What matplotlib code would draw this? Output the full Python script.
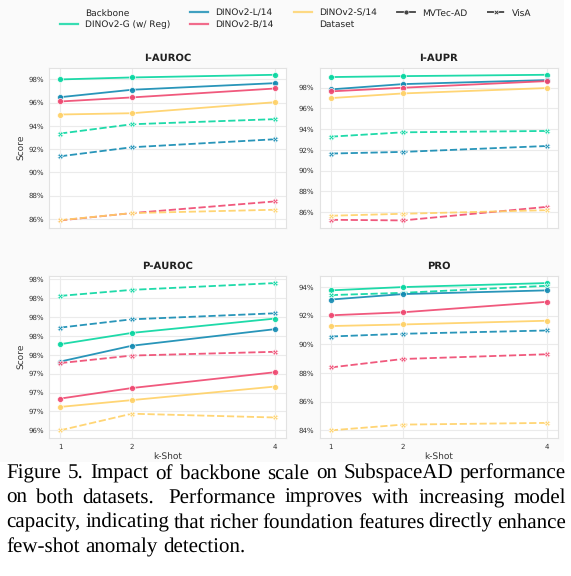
import matplotlib
matplotlib.use("Agg")
import matplotlib.pyplot as plt
from matplotlib.lines import Line2D
from matplotlib.patches import Rectangle
from matplotlib.ticker import MultipleLocator, FuncFormatter

plt.rcParams["text.hinting"] = "no_hinting"
plt.rcParams["text.hinting_factor"] = 1

# ---------------- data ----------------
kshot = [1, 2, 4]
backbones = ["DINOv2-G (w/ Reg)", "DINOv2-L/14", "DINOv2-B/14", "DINOv2-S/14"]
datasets = ["MVTec-AD", "VisA"]
colors = ["#06d6a0", "#118ab2", "#ef476f", "#ffd166"]

i_auroc_mvtec = [[98.00, 98.17, 98.40], [96.47, 97.11, 97.68], [96.10, 96.45, 97.22], [94.98, 95.09, 96.04]]
i_auroc_visa = [[93.34, 94.14, 94.58], [91.38, 92.16, 92.85], [85.86, 86.49, 87.50], [85.88, 86.49, 86.78]]

i_aupr_mvtec = [[99.03, 99.12, 99.25], [97.84, 98.35, 98.74], [97.65, 98.00, 98.64], [97.00, 97.45, 97.97]]
i_aupr_visa = [[93.28, 93.70, 93.83], [91.65, 91.81, 92.38], [85.26, 85.20, 86.51], [85.65, 85.84, 86.19]]

p_auroc_mvtec = [[97.64, 97.79, 97.98], [97.41, 97.62, 97.84], [96.92, 97.06, 97.27], [96.81, 96.90, 97.08]]
p_auroc_visa = [[98.28, 98.36, 98.45], [97.86, 97.97, 98.05], [97.39, 97.49, 97.54], [96.50, 96.72, 96.67]]

pro_mvtec = [[93.77, 94.00, 94.28], [93.13, 93.51, 93.77], [92.03, 92.24, 92.97], [91.28, 91.39, 91.65]]
pro_visa = [[93.44, 93.60, 94.09], [90.55, 90.74, 90.97], [88.39, 88.98, 89.31], [84.00, 84.40, 84.52]]

metrics = ["I-AUROC", "I-AUPR", "P-AUROC", "PRO"]
tick_steps = [2, 2, 0.25, 2]
metric_data = [(i_auroc_mvtec, i_auroc_visa), (i_aupr_mvtec, i_aupr_visa),
               (p_auroc_mvtec, p_auroc_visa), (pro_mvtec, pro_visa)]

caption_lines = [
    "Figure 5. Impact of backbone scale on SubspaceAD performance",
    "on both datasets.  Performance improves with increasing model",
    "capacity, indicating that richer foundation features directly enhance",
    "few-shot anomaly detection.",
]

# ---------------- figure ----------------
W, H = 571, 576
fig = plt.figure(figsize=(W / 100, H / 100), dpi=100)
fig.patch.set_facecolor("white")
fig.patches.append(Rectangle((0, 1 - 462 / H), 564 / W, 462 / H, transform=fig.transFigure,
                             facecolor="#fafafa", edgecolor="none", zorder=-10))

def px_axes(l, t, r, b):
    return [l / W, 1 - b / H, (r - l) / W, (b - t) / H]

boxes = [px_axes(49.3, 67.5, 286, 227.7), px_axes(320, 67.5, 557.7, 227.7),
         px_axes(49.3, 275.7, 286, 437.7), px_axes(320, 275.7, 557.7, 437.7)]

tick_color = "#333333"
for i, (name, box, step, (mv, vi)) in enumerate(zip(metrics, boxes, tick_steps, metric_data)):
    ax = fig.add_axes(box)
    ax.set_facecolor("white")
    for spine in ax.spines.values():
        spine.set_color("#e2e2e2")
        spine.set_linewidth(0.8)
    ax.grid(True, color="#ebebeb", linewidth=0.8)
    ax.set_axisbelow(True)
    for j in range(len(backbones)):
        ax.plot(kshot, mv[j], color=colors[j], lw=1.3, alpha=0.9, marker="o", ms=4.3,
                mec="white", mew=0.5, zorder=3)
        ax.plot(kshot, vi[j], color=colors[j], lw=1.3, alpha=0.9, marker="X", ms=4.3,
                mec="white", mew=0.5, dashes=(4, 1.5), zorder=3)
    ax.margins(x=0.05, y=0.05)
    ax.set_xticks(kshot)
    ax.yaxis.set_major_locator(MultipleLocator(step))
    ax.yaxis.set_major_formatter(FuncFormatter(lambda v, p: f"{v:.0f}%"))
    ax.tick_params(axis="both", length=0, labelsize=5.4, colors=tick_color, pad=4)
    ax.set_title(name, fontsize=7.2, fontweight="bold", color="#222222", pad=5)
    if i % 2 == 0:
        ax.set_ylabel("Score", fontsize=6.3, color=tick_color, labelpad=2)
    if i >= 2:
        ax.set_xlabel("k-Shot", fontsize=6.2, color=tick_color, labelpad=1.5)
    else:
        ax.tick_params(axis="x", labelbottom=False)

# ---------------- legend ----------------
blank = Line2D([], [], color="none")
handles = [blank] + [Line2D([], [], color=c, lw=1.6, alpha=0.8) for c in colors] + [
    blank,
    Line2D([], [], color="#444444", lw=1.3, marker="o", ms=3.5, mec="white", mew=0.4),
    Line2D([], [], color="#444444", lw=1.3, marker="X", ms=3.5, mec="white", mew=0.4, dashes=(4, 1.5)),
]
labels = ["Backbone"] + backbones + ["Dataset"] + datasets
leg = fig.legend(handles, labels, ncol=5, loc="upper left", bbox_to_anchor=(56 / W, 1 - 5 / H),
                 borderaxespad=0, frameon=False, fontsize=6.5, handlelength=2.0,
                 columnspacing=2.2, handletextpad=0.8, labelspacing=0.35)
for t in leg.get_texts():
    t.set_color("#222222")

# ---------------- caption (justified) ----------------
renderer = fig.canvas.get_renderer()
cap_left, cap_right = 6.5, 566
baselines = [478.5, 503, 527.5, 552]
cap_size = 15.3
cap_font = dict(fontsize=cap_size, family="Liberation Serif", color="black", va="baseline")

def text_width(s):
    t = fig.text(0, 0, s, **cap_font)
    w = t.get_window_extent(renderer).width
    t.remove()
    return w

bar_w = text_width("|")
for li, line in enumerate(caption_lines):
    ypos = 1 - baselines[li] / H
    starts, words = [], []
    pos = 0
    for w in line.split(" "):
        if w:
            starts.append(pos)
            words.append(w)
        pos += len(w) + 1
    natural = [0.0 if s == 0 else text_width(line[:s] + "|") - bar_w for s in starts]
    if li < len(caption_lines) - 1:
        full_w = text_width(line)
        extra = (cap_right - cap_left - full_w) / (len(words) - 1)
    else:
        extra = 0.0
    for k, (w, nx) in enumerate(zip(words, natural)):
        fig.text((cap_left + nx + k * extra) / W, ypos, w, ha="left", **cap_font)

fig.savefig("out.png", dpi=100, facecolor="white")
